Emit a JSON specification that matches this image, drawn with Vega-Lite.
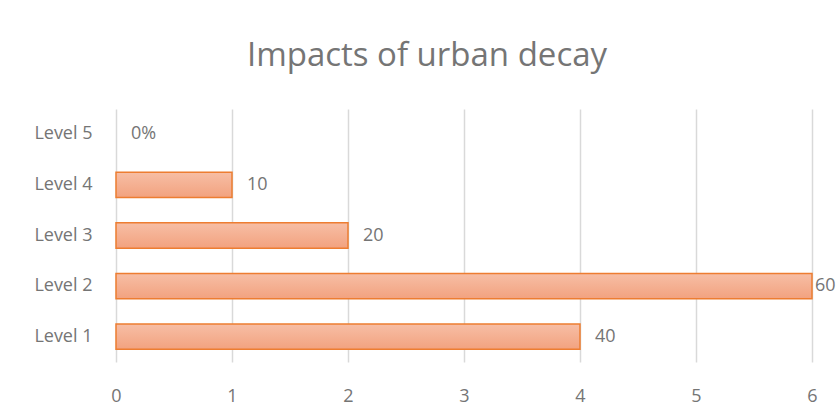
{
  "$schema": "https://vega.github.io/schema/vega-lite/v6.json",
  "autosize": {"type": "none"},
  "width": 696,
  "height": 253,
  "padding": {"left": 116, "top": 109, "right": 24, "bottom": 57},
  "background": "white",
  "config": {"view": {"stroke": null}},
  "title": {
    "text": "Impacts of urban decay",
    "font": "Open Sans",
    "fontSize": 33,
    "fontWeight": "normal",
    "color": "#757575",
    "anchor": "middle",
    "frame": "group",
    "dx": -37,
    "baseline": "alphabetic",
    "offset": 10
  },
  "data": {
    "values": [
      {"level": "Level 1", "value": 4, "label": "40"},
      {"level": "Level 2", "value": 6, "label": "60"},
      {"level": "Level 3", "value": 2, "label": "20"},
      {"level": "Level 4", "value": 1, "label": "10"},
      {"level": "Level 5", "value": 0, "label": "0%"}
    ]
  },
  "encoding": {
    "y": {
      "field": "level",
      "type": "nominal",
      "sort": ["Level 5", "Level 4", "Level 3", "Level 2", "Level 1"],
      "scale": {"paddingInner": 0.5, "paddingOuter": 0.25},
      "axis": {
        "title": null,
        "domain": false,
        "ticks": false,
        "grid": false,
        "labelPadding": 24,
        "labelFont": "Open Sans",
        "labelFontSize": 18,
        "labelColor": "#757575"
      }
    },
    "x": {
      "field": "value",
      "type": "quantitative",
      "scale": {"domain": [0, 6], "nice": false},
      "axis": {
        "title": null,
        "domain": false,
        "ticks": false,
        "values": [0, 1, 2, 3, 4, 5, 6],
        "format": "d",
        "grid": true,
        "gridColor": "#D9D9D9",
        "gridWidth": 1.5,
        "labelFlush": false,
        "labelPadding": 25,
        "labelFont": "Open Sans",
        "labelFontSize": 18,
        "labelColor": "#757575"
      }
    }
  },
  "layer": [
    {
      "transform": [{"filter": "datum.value > 0"}],
      "mark": {
        "type": "bar",
        "stroke": "#ED7D31",
        "strokeWidth": 1.5,
        "color": {
          "gradient": "linear",
          "x1": 0, "y1": 0, "x2": 0, "y2": 1,
          "stops": [
            {"offset": 0, "color": "#F7BEA5"},
            {"offset": 1, "color": "#F2A27F"}
          ]
        }
      }
    },
    {
      "transform": [{"filter": "datum.level !== 'Level 2'"}],
      "mark": {
        "type": "text",
        "align": "left",
        "baseline": "middle",
        "dx": 15,
        "font": "Open Sans",
        "fontSize": 18,
        "color": "#757575"
      },
      "encoding": {"text": {"field": "label"}}
    },
    {
      "transform": [{"filter": "datum.level === 'Level 2'"}],
      "mark": {
        "type": "text",
        "align": "left",
        "baseline": "middle",
        "dx": 3,
        "font": "Open Sans",
        "fontSize": 18,
        "color": "#757575"
      },
      "encoding": {"text": {"field": "label"}}
    }
  ]
}
